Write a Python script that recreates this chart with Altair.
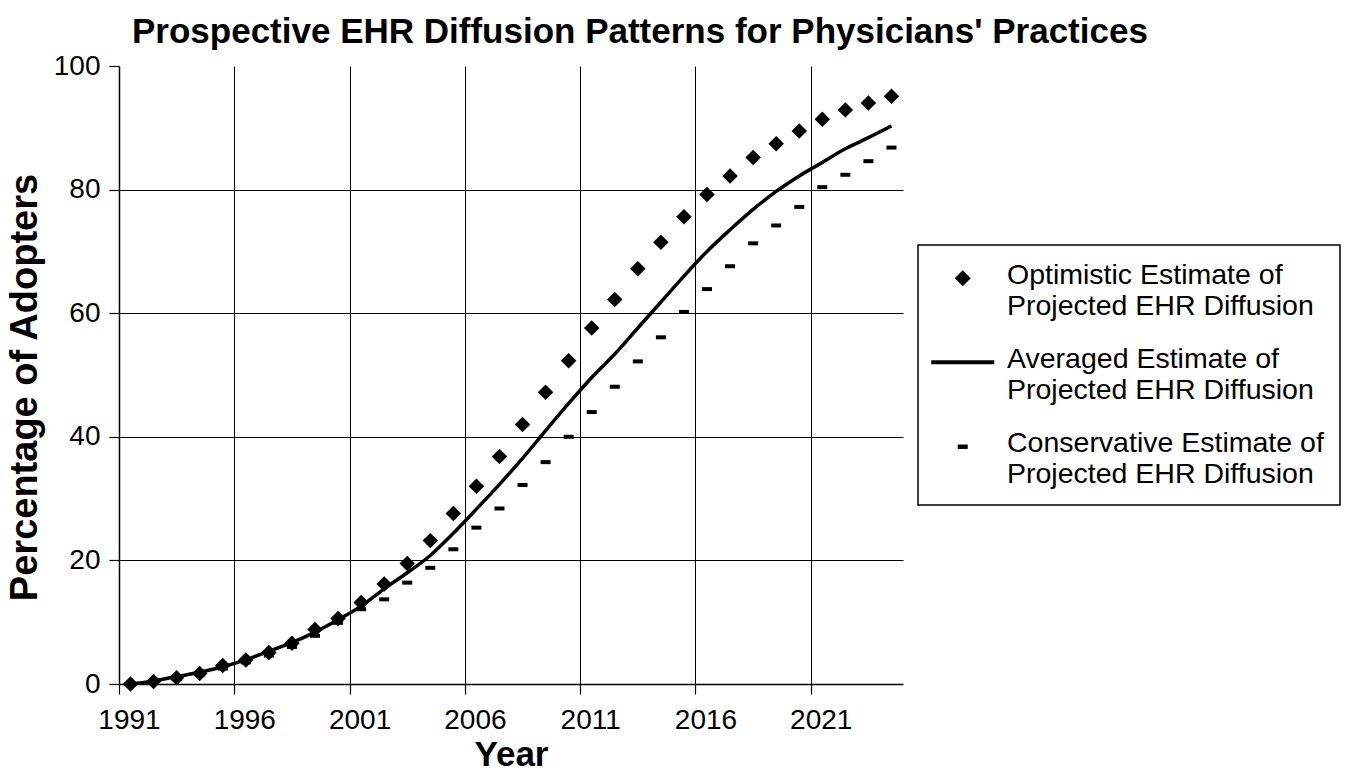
import altair as alt
import pandas as pd

years = [1991, 1992, 1993, 1994, 1995, 1996, 1997, 1998, 1999, 2000,
         2001, 2002, 2003, 2004, 2005, 2006, 2007, 2008, 2009, 2010,
         2011, 2012, 2013, 2014, 2015, 2016, 2017, 2018, 2019, 2020,
         2021, 2022, 2023, 2024]

optimistic = [0.0, 0.4, 1.0, 1.7, 3.0, 3.9, 5.1, 6.6, 8.8, 10.6,
              13.2, 16.2, 19.5, 23.2, 27.6, 32.0, 36.8, 42.0, 47.2, 52.3,
              57.6, 62.2, 67.2, 71.5, 75.6, 79.2, 82.2, 85.2, 87.4, 89.5,
              91.4, 92.9, 94.0, 95.1]

averaged = [0.0, 0.5, 1.2, 1.9, 2.8, 3.9, 5.3, 6.7, 8.4, 10.4,
            12.6, 15.4, 18.0, 20.8, 24.4, 28.3, 32.3, 36.5, 41.0, 45.4,
            49.6, 53.4, 57.6, 61.8, 66.0, 70.0, 73.5, 76.8, 79.7, 82.2,
            84.4, 86.6, 88.4, 90.3]

conservative = [0.0, 0.3, 0.8, 1.5, 2.5, 3.5, 4.6, 6.0, 7.8, 9.9,
                12.1, 13.7, 16.4, 18.8, 21.8, 25.3, 28.4, 32.2, 35.9, 40.0,
                44.0, 48.1, 52.2, 56.1, 60.2, 63.9, 67.6, 71.3, 74.2, 77.2,
                80.4, 82.4, 84.6, 86.8]

series_names = [
    "Optimistic Estimate of Projected EHR Diffusion",
    "Averaged Estimate of Projected EHR Diffusion",
    "Conservative Estimate of Projected EHR Diffusion",
]

x_ticks = [1991, 1996, 2001, 2006, 2011, 2016, 2021]
y_ticks = [0, 20, 40, 60, 80, 100]

FONT = "Liberation Sans"
DASH = "M-1,-0.4L1,-0.4L1,0.4L-1,0.4Z"

# legend symbols (one symbol size, r = sqrt(400)/2 = 10 px per unit)
LEG_DIAMOND = "M-0.8,0.3L0,-0.5L0.8,0.3L0,1.1Z"
LEG_LINE = "M-3.15,0.11L3.15,0.11L3.15,0.49L-3.15,0.49Z"
LEG_DASH = "M-0.5,0.13L0.5,0.13L0.5,0.57L-0.5,0.57Z"

df = pd.DataFrame({"year": years, "opt": optimistic, "avg": averaged, "cons": conservative})

base = alt.Chart(df).transform_calculate(xpos="datum.year + 0.5")

x_enc = alt.X(
    "xpos:Q",
    scale=alt.Scale(domain=[1991, 2025], nice=False, zero=False),
    axis=alt.Axis(
        values=x_ticks, format="d", title="Year",
        tickSize=10, labelPadding=34, labelBaseline="alphabetic", labelOffset=10,
        labelFlush=False,
        titleX=392, titleY=81, titleBaseline="alphabetic", titleAlign="center",
        grid=True,
    ),
)
y_axis = alt.Axis(
    values=y_ticks, title="Percentage of Adopters",
    tickSize=10, labelPadding=9,
    titleX=-83, titleY=321, titleBaseline="alphabetic", titleAlign="center", titleAngle=270,
    titleFontSize=38,
    grid=True,
    gridOpacity=alt.condition("datum.value == 0 || datum.value == 100", alt.value(0), alt.value(1)),
)
y_scale = alt.Scale(domain=[0, 100], nice=False)

line = base.mark_line(color="black", strokeWidth=3.5, interpolate="monotone").encode(
    x=x_enc, y=alt.Y("avg:Q", scale=y_scale, axis=y_axis)
)
cons = base.mark_point(shape=DASH, filled=True, color="black", size=100, opacity=1).encode(
    x="xpos:Q", y="cons:Q"
)
opt = base.mark_point(shape="diamond", filled=True, color="black", size=240, opacity=1).encode(
    x="xpos:Q", y="opt:Q"
)

legend_layer = alt.Chart(pd.DataFrame({"series": series_names})).transform_filter("false").mark_point(
    filled=True, color="black", opacity=1
).encode(
    shape=alt.Shape(
        "series:N",
        scale=alt.Scale(domain=series_names, range=[LEG_DIAMOND, LEG_LINE, LEG_DASH]),
        legend=alt.Legend(
            title=None, orient="none", legendX=799, legendY=179,
            symbolSize=400, symbolOpacity=1, symbolFillColor="black", symbolOffset=14.5,
            labelFont=FONT, labelFontSize=28.5, labelColor="black", labelLimit=0,
            labelOffset=30, labelExpr="split(replace(datum.label, ' Projected', '|Projected'), '|')",
            padding=16, rowPadding=24, strokeColor="black",
        ),
    )
)

chart = alt.layer(line, cons, opt, legend_layer).properties(
    width=784, height=618,
    title=alt.TitleParams(
        "Prospective EHR Diffusion Patterns for Physicians' Practices",
        font=FONT, fontSize=35, fontWeight="bold", color="black",
        anchor="start", frame="group", dx=13, offset=2,
    ),
    autosize=alt.AutoSizeParams(type="none"),
    padding={"left": 111, "top": 58, "right": 441, "bottom": 96},
).configure_view(stroke=None).configure_axis(
    domainColor="black", domainWidth=1.5, tickColor="black", tickWidth=1.2,
    gridColor="black", gridWidth=1,
    labelColor="black", titleColor="black",
    labelFont=FONT, titleFont=FONT, labelFontSize=28, titleFontSize=35, titleFontWeight="bold",
).configure_legend(strokeWidth=1.5)

chart.save("out.html", embed_options={"renderer": "svg", "actions": False})
